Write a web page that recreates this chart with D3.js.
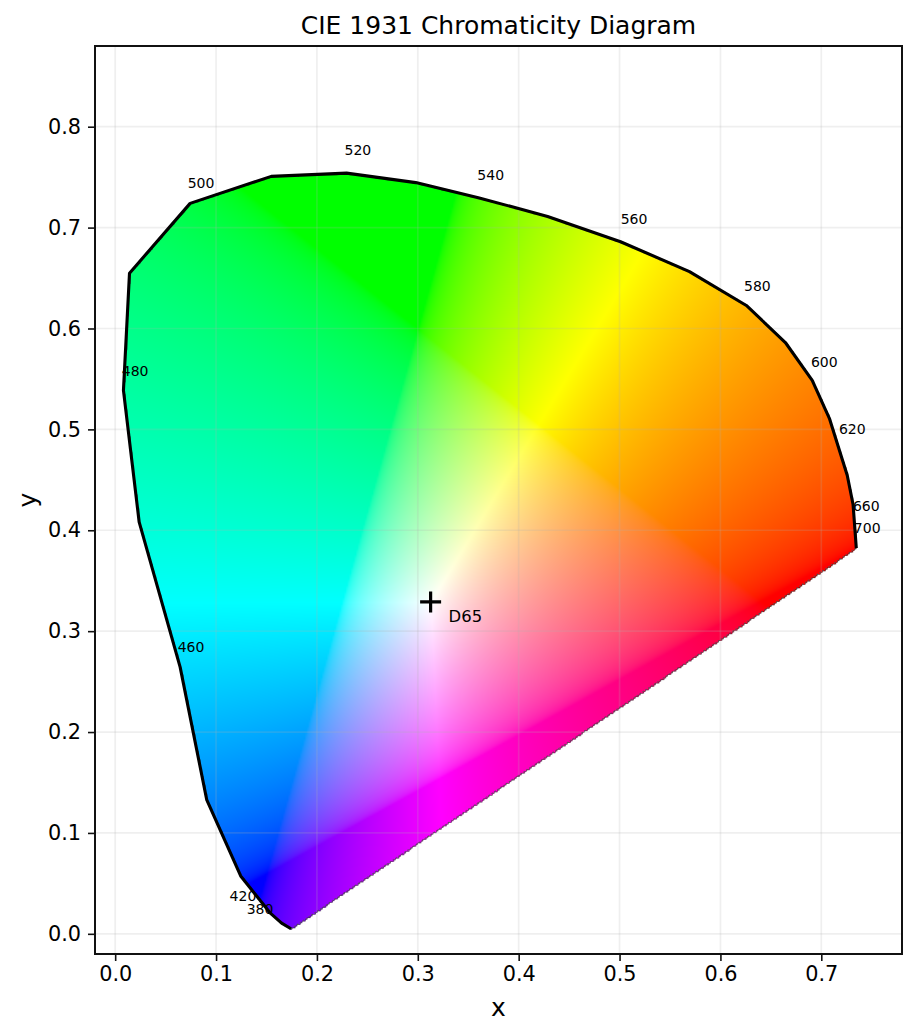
<!DOCTYPE html>
<html>
<head>
    <meta charset="utf-8">
    <script src="https://d3js.org/d3.v7.min.js"></script>
    <title>CIE 1931 Chromaticity Diagram</title>
    <style>
        html, body { margin: 0; background: #fff; }
        svg { display: block; }
        text { font-family: "DejaVu Sans"; fill: #000; }
    </style>
</head>
<body>
<svg id="chart" width="917" height="1036"></svg>
<script>
// spectral locus
const locusX = [0.1743, 0.165, 0.1535, 0.1244, 0.0908, 0.0644, 0.0238, 0.0082, 0.0142, 0.0743, 0.1547, 0.2294, 0.298, 0.36, 0.4287, 0.501, 0.5693, 0.6257, 0.6644, 0.691, 0.708, 0.7257, 0.7315, 0.7347];
const locusY = [0.005, 0.0106, 0.0208, 0.0574, 0.1327, 0.2644, 0.408, 0.5386, 0.6548, 0.724, 0.7508, 0.754, 0.7446, 0.7297, 0.711, 0.686, 0.6564, 0.6228, 0.5861, 0.5485, 0.511, 0.4545, 0.4255, 0.3823];

const waveLabels = ["380", "420", "460", "480", "500", "520", "540", "560", "580", "600", "620", "660", "700"];
const waveLabelX = [0.1436, 0.1267, 0.0752, 0.0198, 0.0851, 0.2406, 0.3723, 0.5144, 0.6366, 0.703, 0.7307, 0.7446, 0.7455];
const waveLabelY = [0.0248, 0.0376, 0.2842, 0.5574, 0.7446, 0.7772, 0.7525, 0.7089, 0.6426, 0.5663, 0.5, 0.4238, 0.402];

const whitePoint = [0.3127, 0.329];
const xTicks = [0, 0.1, 0.2, 0.3, 0.4, 0.5, 0.6, 0.7];
const yTicks = [0, 0.1, 0.2, 0.3, 0.4, 0.5, 0.6, 0.7, 0.8];

const svg = d3.select("#chart");
const left = 95, right = 902, top_ = 46, bottom = 954;
const x = d3.scaleLinear().domain([-0.02, 0.78]).range([left, right]);
const y = d3.scaleLinear().domain([-0.02, 0.88]).range([bottom, top_]);

const locus = locusX.map((d, i) => [d, locusY[i]]);

// colour of one chromaticity: xyY with Y=1 to sRGB, clipped and scaled to the brightest channel
function chroma(cx, cy) {
    const X = cx / cy, Z = (1 - cx - cy) / cy;
    let r = Math.max(0, 3.2406 * X - 1.5372 - 0.4986 * Z);
    let g = Math.max(0, -0.9689 * X + 1.8758 + 0.0415 * Z);
    let b = Math.max(0, 0.0557 * X - 0.204 + 1.057 * Z);
    const m = Math.max(r, g, b) || 1;
    return [r / m, g / m, b / m].map(v => 255 * (v <= 0.0031308 ? 12.92 * v : 1.055 * Math.pow(v, 1 / 2.4) - 0.055));
}

// the field is sampled on a coarse grid and masked, then blown up
const cell = 1.7;
const nx = Math.ceil((right - left) / cell) + 2, ny = Math.ceil((bottom - top_) / cell) + 2;
const field = new Float32Array(nx * ny * 4);
for (let j = 0; j < ny; j++) {
    for (let i = 0; i < nx; i++) {
        const cx = x.invert(left + i * cell), cy = y.invert(top_ + j * cell);
        if (!d3.polygonContains(locus, [cx, cy])) continue;
        const c = chroma(cx, cy), k = (j * nx + i) * 4;
        field[k] = c[0]; field[k + 1] = c[1]; field[k + 2] = c[2]; field[k + 3] = 255;
    }
}

const canvas = document.createElement("canvas");
canvas.width = right - left;
canvas.height = bottom - top_;
const ctx = canvas.getContext("2d");
const img = ctx.createImageData(canvas.width, canvas.height);
for (let py = 0; py < canvas.height; py++) {
    for (let px = 0; px < canvas.width; px++) {
        const fx = px / cell, fy = py / cell;
        const i0 = Math.floor(fx), j0 = Math.floor(fy), tx = fx - i0, ty = fy - j0;
        const out = (py * canvas.width + px) * 4;
        for (let c = 0; c < 4; c++) {
            const a = field[(j0 * nx + i0) * 4 + c], b = field[(j0 * nx + i0 + 1) * 4 + c];
            const d = field[((j0 + 1) * nx + i0) * 4 + c], e = field[((j0 + 1) * nx + i0 + 1) * 4 + c];
            img.data[out + c] = (a * (1 - tx) + b * tx) * (1 - ty) + (d * (1 - tx) + e * tx) * ty;
        }
        // masked cells are black, so edge pixels come out dark
        img.data[out + 3] = Math.min(255, img.data[out + 3] * 1.5);
    }
}
ctx.putImageData(img, 0, 0);

svg.append("rect").attr("width", 917).attr("height", 1036).attr("fill", "white");
svg.append("image")
    .attr("x", left).attr("y", top_)
    .attr("width", canvas.width).attr("height", canvas.height)
    .attr("href", canvas.toDataURL());

// grid
const grid = svg.append("g").attr("stroke", "#b0b0b0").attr("stroke-opacity", 0.2).attr("stroke-width", 1.7);
xTicks.forEach(d => grid.append("line").attr("x1", x(d)).attr("x2", x(d)).attr("y1", top_).attr("y2", bottom));
yTicks.forEach(d => grid.append("line").attr("y1", y(d)).attr("y2", y(d)).attr("x1", left).attr("x2", right));

// dark speckle along the purple edge
const purpleEdge = [locus[0], locus[locus.length - 1]];
svg.append("path")
    .attr("d", d3.line().x(d => x(d[0])).y(d => y(d[1]))(purpleEdge))
    .attr("fill", "none").attr("stroke", "#555").attr("stroke-opacity", 0.75)
    .attr("stroke-width", 1.2).attr("stroke-dasharray", "2 1.5");

// locus line, open along the purple edge
svg.append("path")
    .attr("d", d3.line().x(d => x(d[0])).y(d => y(d[1]))(locus))
    .attr("fill", "none").attr("stroke", "black").attr("stroke-width", 3.1).attr("stroke-linejoin", "round");

waveLabels.forEach((d, i) => {
    svg.append("text")
        .attr("x", x(waveLabelX[i])).attr("y", y(waveLabelY[i]))
        .attr("text-anchor", "middle").attr("dominant-baseline", "central")
        .attr("font-size", 14).text(d);
});

// D65
const wx = x(whitePoint[0]), wy = y(whitePoint[1]);
svg.append("path").attr("d", `M${wx - 10.5},${wy}H${wx + 10.5}M${wx},${wy - 10.5}V${wy + 10.5}`)
    .attr("stroke", "black").attr("stroke-width", 3.2);
svg.append("text").attr("x", wx + 18).attr("y", wy + 15).attr("dominant-baseline", "central")
    .attr("font-size", 16.4).text("D65");

// frame and axes
svg.append("rect").attr("x", left).attr("y", top_).attr("width", right - left).attr("height", bottom - top_)
    .attr("fill", "none").attr("stroke", "#111").attr("stroke-width", 2);

const xAxis = svg.append("g").attr("transform", `translate(0,${bottom})`)
    .call(d3.axisBottom(x).tickValues(xTicks).tickFormat(d3.format(".1f")).tickSize(7).tickPadding(5));
const yAxis = svg.append("g").attr("transform", `translate(${left},0)`)
    .call(d3.axisLeft(y).tickValues(yTicks).tickFormat(d3.format(".1f")).tickSize(7).tickPadding(7));
[xAxis, yAxis].forEach(a => {
    a.select(".domain").remove();
    a.selectAll("line").attr("stroke", "#111").attr("stroke-width", 1.6);
    a.selectAll("text").attr("font-size", 20.8).attr("font-family", "DejaVu Sans").attr("fill", "#000");
});

svg.append("text").attr("x", (left + right) / 2).attr("y", 25).attr("text-anchor", "middle")
    .attr("dominant-baseline", "central").attr("font-size", 25).text("CIE 1931 Chromaticity Diagram");
svg.append("text").attr("x", (left + right) / 2).attr("y", 1007).attr("text-anchor", "middle")
    .attr("dominant-baseline", "central").attr("font-size", 25).text("x");
svg.append("text").attr("transform", `translate(27,${(top_ + bottom) / 2}) rotate(-90)`).attr("text-anchor", "middle")
    .attr("dominant-baseline", "central").attr("font-size", 25).text("y");
</script>
</body>
</html>
